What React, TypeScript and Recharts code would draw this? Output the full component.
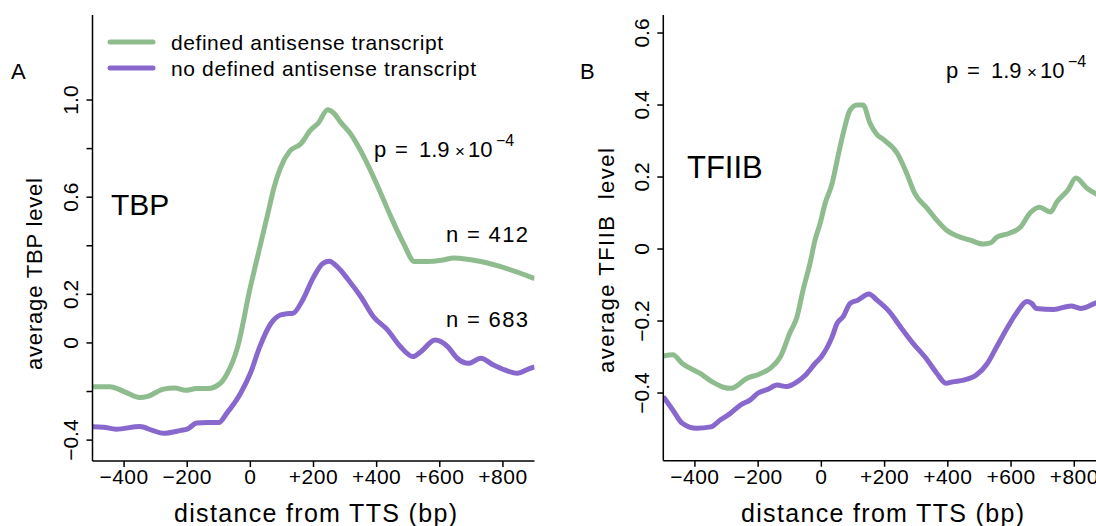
import React from 'react';
import { LineChart, Line, XAxis, YAxis, Legend } from 'recharts';

// distance from TTS (bp) and average level, per group
const tbpDefinedPos = [-500, -445, -400, -350, -325, -275, -240, -205, -170, -135, -95, -75, -40, 0, 20, 55, 75, 95, 125, 160, 190, 215, 245, 265, 285, 315, 360, 405, 445, 485, 520, 560, 605, 645, 730, 815, 900];
const tbpDefinedVal = [-0.18, -0.18, -0.2, -0.225, -0.22, -0.19, -0.185, -0.195, -0.188, -0.188, -0.166, -0.13, -0.015, 0.23, 0.34, 0.53, 0.64, 0.72, 0.79, 0.82, 0.875, 0.905, 0.96, 0.945, 0.91, 0.865, 0.765, 0.64, 0.52, 0.41, 0.335, 0.335, 0.34, 0.35, 0.335, 0.305, 0.265];

const tbpNonePos = [-500, -465, -425, -350, -310, -275, -220, -200, -170, -135, -100, -75, -30, 0, 30, 65, 95, 115, 135, 165, 200, 230, 250, 275, 310, 350, 390, 435, 475, 515, 540, 585, 625, 655, 690, 730, 770, 805, 845, 880, 900];
const tbpNoneVal = [-0.345, -0.347, -0.355, -0.344, -0.36, -0.372, -0.36, -0.355, -0.33, -0.328, -0.328, -0.29, -0.205, -0.125, -0.015, 0.08, 0.115, 0.12, 0.122, 0.175, 0.27, 0.328, 0.336, 0.314, 0.26, 0.19, 0.108, 0.053, -0.015, -0.056, -0.036, 0.012, -0.015, -0.063, -0.084, -0.063, -0.091, -0.111, -0.125, -0.108, -0.098];

const tfiibDefinedPos = [-500, -470, -440, -385, -345, -310, -285, -235, -195, -160, -130, -100, -77, -58, -36, -20, -4, 12, 34, 50, 69, 91, 113, 132, 154, 176, 195, 240, 270, 295, 335, 365, 395, 430, 470, 510, 535, 555, 595, 630, 660, 690, 725, 745, 780, 805, 840, 865, 900];
const tfiibDefinedVal = [-0.297, -0.294, -0.318, -0.345, -0.369, -0.384, -0.387, -0.359, -0.347, -0.33, -0.3, -0.234, -0.188, -0.114, -0.04, 0.025, 0.071, 0.127, 0.182, 0.247, 0.321, 0.386, 0.4, 0.4, 0.349, 0.318, 0.305, 0.266, 0.21, 0.155, 0.113, 0.08, 0.053, 0.036, 0.025, 0.014, 0.017, 0.033, 0.044, 0.061, 0.1, 0.116, 0.103, 0.131, 0.164, 0.197, 0.169, 0.155, 0.14];

const tfiibNonePos = [-500, -470, -440, -395, -350, -320, -290, -255, -225, -200, -170, -140, -110, -77, -50, -20, 0, 34, 50, 69, 91, 115, 150, 176, 215, 250, 290, 335, 365, 395, 415, 450, 490, 525, 555, 590, 620, 650, 665, 680, 735, 790, 820, 865, 900];
const tfiibNoneVal = [-0.41, -0.447, -0.484, -0.498, -0.494, -0.475, -0.458, -0.433, -0.419, -0.4, -0.39, -0.378, -0.382, -0.369, -0.35, -0.318, -0.299, -0.244, -0.206, -0.188, -0.151, -0.142, -0.125, -0.142, -0.174, -0.216, -0.262, -0.308, -0.345, -0.373, -0.369, -0.364, -0.35, -0.318, -0.271, -0.216, -0.174, -0.146, -0.151, -0.165, -0.168, -0.158, -0.165, -0.151, -0.14];

const xTicks = [-400, -200, 0, 200, 400, 600, 800];
const tbpTicks = [-0.4, -0.2, 0, 0.2, 0.4, 0.6, 0.8, 1.0];
const tbpLabeled = [-0.4, 0, 0.2, 0.6, 1.0];
const tfiibTicks = [-0.4, -0.2, 0, 0.2, 0.4, 0.6];

const seriesNames = ['defined antisense transcript', 'no defined antisense transcript'];

const GREEN = '#8FBC8F';
const PURPLE = '#8968CD';
const FONT = '"Liberation Sans", Arial, Helvetica, sans-serif';

const toPoints = (pos: number[], val: number[]) => pos.map((x, i) => ({ x, v: val[i] }));

const fmtDist = (v: number) => (v === 0 ? '0' : v < 0 ? `\u2212${Math.abs(v)}` : `+${v}`);
const fmtLevel = (v: number) => (Math.abs(v) < 1e-9 ? '0' : (v < 0 ? '\u2212' : '') + Math.abs(v).toFixed(1));

function XTick(props: any) {
  const { x, y, payload } = props;
  return (
    <text x={x} y={y} dy={15} textAnchor="middle" fontSize={21} fontFamily={FONT} fill="#000" letterSpacing={0.5}>
      {fmtDist(payload.value)}
    </text>
  );
}

function makeYTick(labeled: number[] | null) {
  return (props: any) => {
    const { x, y, payload } = props;
    const v = payload.value;
    if (labeled && !labeled.some((l) => Math.abs(l - v) < 1e-9)) return <g />;
    return (
      <text x={x} y={y} transform={`rotate(-90, ${x}, ${y})`} textAnchor="middle" fontSize={21} fontFamily={FONT} fill="#000">
        {fmtLevel(v)}
      </text>
    );
  };
}

function LegendBox() {
  return (
    <svg width={440} height={60} style={{ overflow: 'visible' }}>
      <line x1={5} y1={7} x2={48} y2={7} stroke={GREEN} strokeWidth={5} strokeLinecap="round" />
      <line x1={5} y1={33} x2={48} y2={33} stroke={PURPLE} strokeWidth={5} strokeLinecap="round" />
      <text x={66} y={15} fontSize={21} fontFamily={FONT} textLength={272}>{seriesNames[0]}</text>
      <text x={66} y={41} fontSize={21} fontFamily={FONT} textLength={305}>{seriesNames[1]}</text>
    </svg>
  );
}

const axisStyle = { stroke: '#000', strokeWidth: 1.5 };

// p-value label: plain text pieces with a superscript exponent
function PValue({ x, y }: { x: number; y: number }) {
  return (
    <text x={x} y={y} fontSize={22} fontFamily={FONT} fill="#000">
      p<tspan x={x + 21}>=</tspan>
      <tspan x={x + 45}>1.9</tspan>
      <tspan x={x + 81} fontSize={17}>×</tspan>
      <tspan x={x + 94}>10</tspan>
      <tspan x={x + 122} dy={-11} fontSize={16}>−4</tspan>
    </text>
  );
}

function Annotations() {
  const t = { fontFamily: FONT, fill: '#000' };
  return (
    <svg width={1096} height={526} style={{ position: 'absolute', left: 0, top: 0, pointerEvents: 'none' }}>
      <text x={11} y={79} fontSize={22} {...t}>A</text>
      <text x={580} y={79} fontSize={22} {...t}>B</text>
      <text x={111} y={215} fontSize={30} {...t}>TBP</text>
      <text x={687} y={178} fontSize={31} {...t}>TFIIB</text>

      <PValue x={374} y={157} />
      <PValue x={946} y={78} />

      <text x={446} y={242} fontSize={22} textLength={82} {...t}>n = 412</text>
      <text x={446} y={327} fontSize={22} textLength={82} {...t}>n = 683</text>

      <text x={174} y={522} fontSize={25} textLength={283} {...t}>distance from TTS (bp)</text>
      <text x={741} y={522} fontSize={25} textLength={283} {...t}>distance from TTS (bp)</text>

      <text x={42} y={370} transform="rotate(-90, 42, 370)" fontSize={22} textLength={192} {...t}>average TBP level</text>
      <text x={614} y={373} transform="rotate(-90, 614, 373)" fontSize={22} textLength={225} style={{ whiteSpace: 'pre' }} {...t}>average TFIIB  level</text>
    </svg>
  );
}

export default function App() {
  return (
    <div style={{ position: 'absolute', left: 0, top: 0, width: 1096, height: 526, overflow: 'hidden', background: '#fff' }}>
      <div style={{ position: 'absolute', left: 0, top: 0 }}>
        <LineChart width={550} height={526} margin={{ top: 15, right: 15.5, left: 0, bottom: 0 }}>
          <XAxis
            dataKey="x"
            type="number"
            domain={[-500, 900]}
            ticks={xTicks}
            allowDataOverflow
            height={65}
            axisLine={axisStyle}
            tickLine={axisStyle}
            tickSize={6}
            tickMargin={2}
            tick={(p: any) => <XTick {...p} />}
          />
          <YAxis
            type="number"
            domain={[-0.486, 1.35]}
            ticks={tbpTicks}
            allowDataOverflow
            width={92.5}
            axisLine={axisStyle}
            tickLine={axisStyle}
            tickSize={6}
            tickMargin={8}
            tick={makeYTick(tbpLabeled)}
          />
          <Legend
            layout="vertical"
            align="center"
            verticalAlign="middle"
            wrapperStyle={{ position: 'absolute', left: 105, top: 35, width: 440, height: 60 }}
            content={() => <LegendBox />}
          />
          <Line type="monotone" name={seriesNames[0]} data={toPoints(tbpDefinedPos, tbpDefinedVal)} dataKey="v" stroke={GREEN} strokeWidth={5} dot={false} isAnimationActive={false} />
          <Line type="monotone" name={seriesNames[1]} data={toPoints(tbpNonePos, tbpNoneVal)} dataKey="v" stroke={PURPLE} strokeWidth={5} dot={false} isAnimationActive={false} />
        </LineChart>
      </div>
      <div style={{ position: 'absolute', left: 560, top: 0 }}>
        <LineChart width={560} height={526} margin={{ top: 15, right: 14.1, left: 0, bottom: 0 }}>
          <XAxis
            dataKey="x"
            type="number"
            domain={[-500, 900]}
            ticks={xTicks}
            allowDataOverflow
            height={65.3}
            axisLine={axisStyle}
            tickLine={axisStyle}
            tickSize={6}
            tickMargin={2}
            tick={(p: any) => <XTick {...p} />}
          />
          <YAxis
            type="number"
            domain={[-0.588, 0.65]}
            ticks={tfiibTicks}
            allowDataOverflow
            width={103.3}
            axisLine={axisStyle}
            tickLine={axisStyle}
            tickSize={6}
            tickMargin={8}
            tick={makeYTick(null)}
          />
          <Line type="monotone" name={seriesNames[0]} data={toPoints(tfiibDefinedPos, tfiibDefinedVal)} dataKey="v" stroke={GREEN} strokeWidth={5} dot={false} isAnimationActive={false} />
          <Line type="monotone" name={seriesNames[1]} data={toPoints(tfiibNonePos, tfiibNoneVal)} dataKey="v" stroke={PURPLE} strokeWidth={5} dot={false} isAnimationActive={false} />
        </LineChart>
      </div>
      <Annotations />
    </div>
  );
}
